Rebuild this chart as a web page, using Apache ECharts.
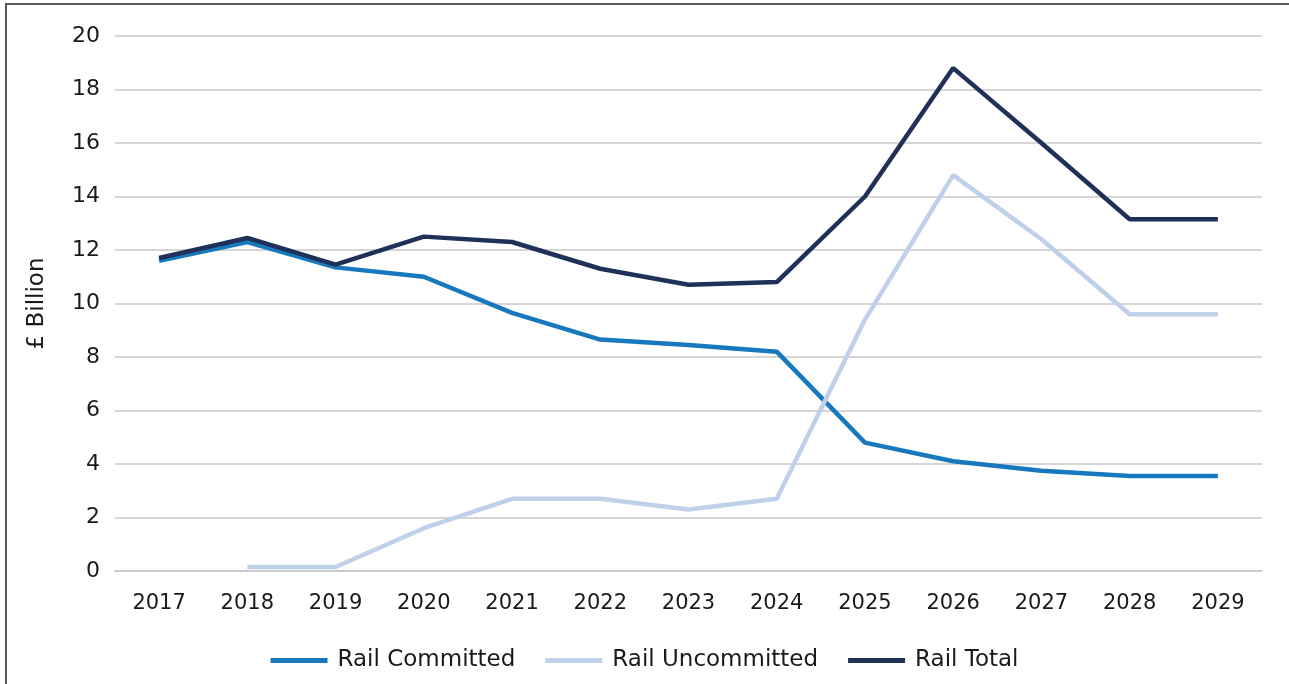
<!DOCTYPE html>
<html>
<head>
<meta charset="utf-8">
<script src="https://cdn.jsdelivr.net/npm/echarts@6/dist/echarts.min.js"></script>
<style>
  html, body { margin: 0; padding: 0; background: #fff; }
  #chart { width: 1289px; height: 684px; }
</style>
</head>
<body>
<div id="chart"></div>
<script>
const years = ['2017', '2018', '2019', '2020', '2021', '2022', '2023', '2024', '2025', '2026', '2027', '2028', '2029']
const committed = [11.6, 12.3, 11.35, 11.0, 9.65, 8.65, 8.45, 8.2, 4.8, 4.1, 3.75, 3.55, 3.55]
const uncommitted = [null, 0.15, 0.15, 1.6, 2.7, 2.7, 2.3, 2.7, 9.4, 14.8, 12.4, 9.6, 9.6]
const total = [11.7, 12.45, 11.45, 12.5, 12.3, 11.3, 10.7, 10.8, 14.0, 18.8, 16.0, 13.15, 13.15]

const font = 'DejaVu Sans'
const ink = '#1a1a1a'

function lineSeries(name, data, color) {
  return {
    name: name,
    type: 'line',
    data: data,
    symbol: 'none',
    lineStyle: { width: 4.5, color: color },
    itemStyle: { color: color }
  }
}

const chart = echarts.init(document.getElementById('chart'))
chart.setOption({
  animation: false,
  textStyle: { fontFamily: font },
  graphic: [{
    type: 'rect',
    shape: { x: 6, y: 4, width: 1300, height: 700 },
    style: { fill: 'none', stroke: '#5a5a5a', lineWidth: 2 },
    silent: true
  }],
  grid: { left: 115, right: 27, top: 36, bottom: 113 },
  legend: {
    top: 644,
    left: 'center',
    icon: 'rect',
    itemWidth: 57,
    itemHeight: 5,
    itemGap: 30,
    textStyle: { fontFamily: font, fontSize: 23, color: ink, padding: [0, 0, 0, 5] },
    data: ['Rail Committed', 'Rail Uncommitted', 'Rail Total']
  },
  xAxis: {
    type: 'category',
    data: years,
    boundaryGap: true,
    axisLine: { lineStyle: { color: '#c8c8c8', width: 1.5 } },
    axisTick: { show: false },
    axisLabel: { fontFamily: font, fontSize: 21, color: ink, margin: 22 }
  },
  yAxis: {
    type: 'value',
    min: 0,
    max: 20,
    interval: 2,
    name: '£ Billion',
    nameLocation: 'middle',
    nameRotate: 90,
    nameGap: 66,
    nameTextStyle: { fontFamily: font, fontSize: 23, color: ink },
    axisLine: { show: false },
    axisTick: { show: false },
    axisLabel: { fontFamily: font, fontSize: 22, color: ink, margin: 15 },
    splitLine: { lineStyle: { color: '#c8c8c8', width: 1.5 } }
  },
  series: [
    lineSeries('Rail Committed', committed, '#1878bd'),
    lineSeries('Rail Uncommitted', uncommitted, '#bfd0ea'),
    lineSeries('Rail Total', total, '#1f3159')
  ]
})
</script>
</body>
</html>
